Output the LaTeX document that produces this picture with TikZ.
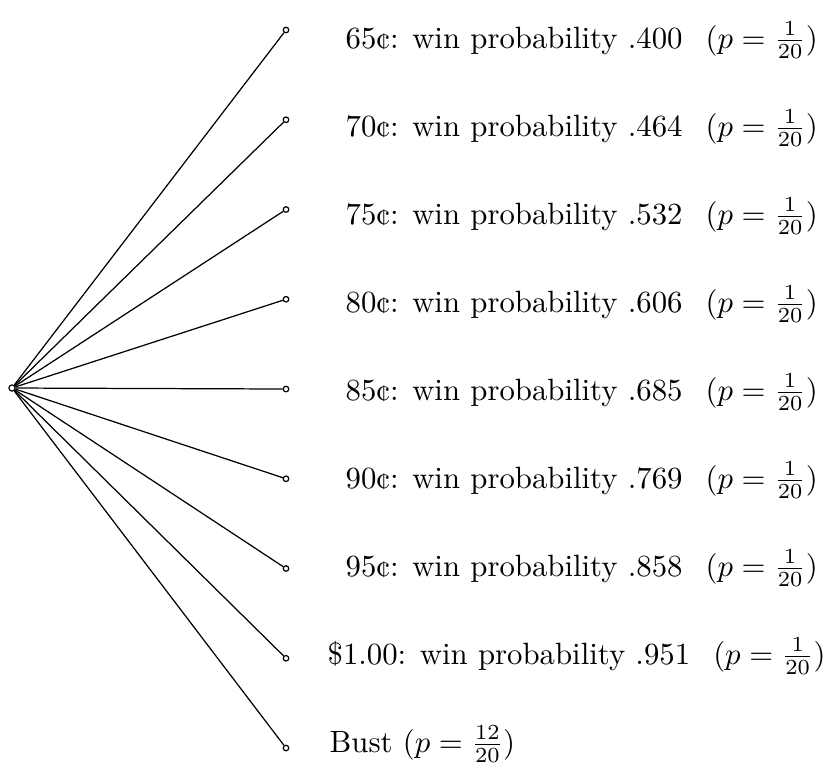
\documentclass[tikz,border=0pt]{standalone}
\usepackage{amsmath}
\usepackage{tikz}

\begin{document}
\begin{tikzpicture}[x=0.325pt,y=-0.325pt,
    leaf/.style={circle,draw,inner sep=0pt,minimum size=1.8pt},
    payoff/.style={anchor=base west,inner sep=0pt}]
  \useasboundingbox (0,0) rectangle (831,771);
  \node[leaf,minimum size=2pt] (root) at (12,388) {};
  \foreach \i in {0,...,8}{
    \node[leaf] (e\i) at (286,{30+89.75*\i}) {};
    \draw (root) -- (e\i);
  }
  \foreach \i/\lx/\amt/\prob in {0/345/65¢/.400,1/345/70¢/.464,2/345/75¢/.532,
      3/345/80¢/.606,4/345/85¢/.685,5/345/90¢/.769,6/345/95¢/.858,7/327/\$1.00/.951}
    \node[payoff] (l\i) at (\lx,{48+88*\i}) {\amt: win probability \prob\hspace{0.75em}$(p=\frac{1}{20})$};
  \node[payoff] (l8) at (329,752) {Bust $(p=\frac{12}{20})$};
\end{tikzpicture}
\end{document}
